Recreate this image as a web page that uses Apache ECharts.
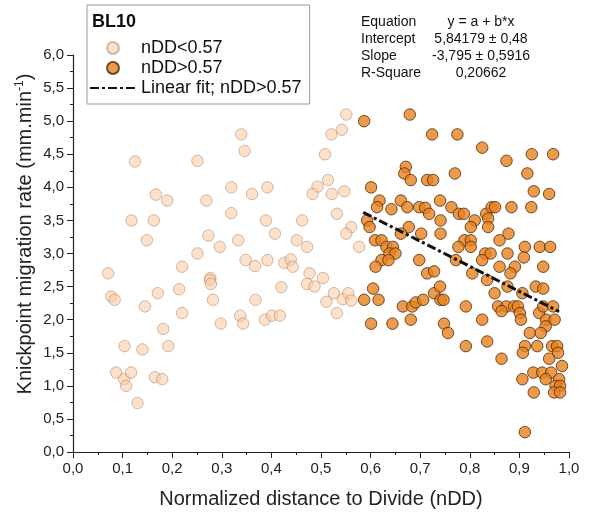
<!DOCTYPE html>
<html>
<head>
<meta charset="utf-8">
<script src="https://cdn.jsdelivr.net/npm/echarts@6/dist/echarts.min.js"></script>
<style>
  html, body { margin: 0; padding: 0; background: #fff; }
  #scatter-chart { width: 590px; height: 518px; }
</style>
</head>
<body>
<div id="scatter-chart"></div>
<script>
// nDD < 0.57
var lowPoints = [
  [0.071, 2.70], [0.125, 4.39], [0.118, 3.50], [0.149, 3.20], [0.167, 3.89], [0.190, 3.80],
  [0.163, 3.50], [0.220, 2.80], [0.251, 4.40], [0.269, 3.80], [0.251, 3.00], [0.273, 3.27],
  [0.296, 3.10], [0.277, 2.63], [0.319, 4.00], [0.319, 3.61], [0.333, 3.20], [0.339, 4.80],
  [0.346, 4.55], [0.361, 3.90], [0.348, 2.90], [0.367, 2.81],
  [0.077, 2.35], [0.084, 2.30], [0.145, 2.20], [0.104, 1.60], [0.087, 1.20], [0.103, 1.10],
  [0.107, 1.00], [0.117, 1.20], [0.130, 0.74], [0.140, 1.55], [0.171, 2.40], [0.182, 1.86],
  [0.192, 1.60], [0.165, 1.13], [0.180, 1.10], [0.214, 2.46], [0.220, 2.10], [0.276, 2.60],
  [0.278, 2.54], [0.282, 2.30], [0.298, 1.94], [0.337, 2.06], [0.343, 1.94], [0.368, 2.30],
  [0.551, 5.10], [0.542, 4.87], [0.521, 4.80], [0.508, 4.50], [0.514, 4.11], [0.493, 4.01],
  [0.483, 3.90], [0.522, 3.90], [0.547, 3.94], [0.392, 4.00], [0.389, 3.50], [0.462, 3.50],
  [0.532, 3.60], [0.407, 3.30], [0.451, 3.20], [0.472, 3.10], [0.561, 3.40], [0.551, 3.30],
  [0.577, 3.10], [0.392, 2.90], [0.426, 2.86], [0.439, 2.91], [0.443, 2.80], [0.477, 2.70],
  [0.504, 2.63],
  [0.420, 2.49], [0.472, 2.54], [0.487, 2.50], [0.526, 2.40], [0.511, 2.27], [0.544, 2.31],
  [0.555, 2.40], [0.561, 2.29], [0.532, 2.10], [0.387, 2.00], [0.401, 2.06], [0.417, 2.06]
]

// nDD > 0.57
var highPoints = [
  [0.587, 5.00], [0.679, 5.10], [0.671, 4.31], [0.668, 4.21], [0.681, 4.11], [0.601, 4.00],
  [0.618, 3.80], [0.613, 3.70], [0.642, 3.67], [0.661, 3.80], [0.674, 3.70], [0.698, 3.70],
  [0.593, 3.50], [0.598, 3.40], [0.677, 3.40], [0.661, 3.30], [0.609, 3.20], [0.622, 3.20],
  [0.632, 3.10], [0.645, 3.10], [0.638, 3.00], [0.650, 3.00], [0.622, 2.90], [0.636, 2.90],
  [0.610, 2.80], [0.698, 2.90],
  [0.605, 2.47], [0.587, 2.30], [0.616, 2.30], [0.665, 2.20], [0.684, 2.20], [0.691, 2.26],
  [0.601, 1.94], [0.644, 1.94], [0.681, 2.00],
  [0.724, 4.80], [0.775, 4.80], [0.825, 4.60], [0.874, 4.40], [0.925, 4.50], [0.968, 4.50],
  [0.714, 4.11], [0.726, 4.11], [0.770, 4.21], [0.916, 4.21], [0.929, 3.94], [0.960, 3.90],
  [0.710, 3.69], [0.718, 3.60], [0.740, 3.80], [0.763, 3.70], [0.778, 3.60], [0.788, 3.60],
  [0.741, 3.50], [0.810, 3.50], [0.802, 3.40], [0.833, 3.60], [0.844, 3.70], [0.851, 3.70],
  [0.837, 3.53], [0.837, 3.40], [0.884, 3.70], [0.924, 3.70], [0.702, 3.30], [0.741, 3.30],
  [0.878, 3.30], [0.860, 3.20], [0.789, 3.20], [0.802, 3.20], [0.777, 3.10], [0.802, 3.10],
  [0.911, 3.10], [0.941, 3.10], [0.962, 3.10], [0.831, 3.00], [0.842, 3.00], [0.876, 3.00],
  [0.909, 2.94], [0.772, 2.90], [0.825, 2.90], [0.860, 2.80], [0.891, 2.80], [0.948, 2.80],
  [0.714, 2.70], [0.728, 2.73], [0.805, 2.70], [0.882, 2.70],
  [0.728, 2.40], [0.740, 2.50], [0.741, 2.30], [0.747, 2.30], [0.706, 2.30], [0.748, 1.94],
  [0.756, 1.80], [0.792, 2.20], [0.825, 2.00], [0.792, 1.60], [0.835, 1.67], [0.835, 2.60],
  [0.850, 2.40], [0.876, 2.50], [0.906, 2.40], [0.933, 2.50], [0.948, 2.47], [0.857, 2.20],
  [0.874, 2.20], [0.889, 2.20], [0.897, 2.20], [0.864, 2.13], [0.901, 2.10], [0.903, 2.00],
  [0.940, 2.10], [0.948, 2.20], [0.968, 2.20], [0.954, 2.00], [0.971, 2.00], [0.953, 1.90],
  [0.921, 1.80], [0.943, 1.80], [0.911, 1.60], [0.936, 1.60], [0.907, 1.50], [0.966, 1.60],
  [0.976, 1.60], [0.978, 1.50], [0.960, 1.41], [0.864, 1.41], [0.986, 1.30], [0.928, 1.20],
  [0.946, 1.20], [0.964, 1.20], [0.953, 1.10], [0.906, 1.10], [0.980, 1.10], [0.973, 1.00],
  [0.982, 1.00], [0.970, 0.90], [0.982, 0.90], [0.929, 0.90], [0.911, 0.30]
]

// linear fit for nDD > 0.57
var fitIntercept = 5.84179
var fitSlope = -3.795
var fitRange = [0.585, 0.98]

var statNames = ['Equation', 'Intercept', 'Slope', 'R-Square']
var statValues = ['y = a + b*x', '5,84179 \u00b1 0,48', '-3,795 \u00b1 0,5916', '0,20662']

var fitLine = fitRange.map(function (x) {
  return [x, fitIntercept + fitSlope * x]
})

var font = '"Liberation Sans", Arial, sans-serif'
var comma = function (v) {
  return v.toFixed(1).replace('.', ',')
}

var statGraphics = []
statNames.forEach(function (name, i) {
  statGraphics.push({
    type: 'text',
    x: 361,
    y: 22 + i * 17,
    style: { text: name, font: '14px ' + font, fill: '#111', verticalAlign: 'middle' }
  })
  statGraphics.push({
    type: 'text',
    x: 481,
    y: 22 + i * 17,
    style: { text: statValues[i], font: '14px ' + font, fill: '#111', align: 'center', verticalAlign: 'middle' }
  })
})

var chart = echarts.init(document.getElementById('scatter-chart'))
chart.setOption({
  animation: false,
  textStyle: { fontFamily: font },
  grid: { left: 73, right: 21, top: 55, bottom: 66 },
  legend: {
    orient: 'vertical',
    left: 87,
    top: 5,
    padding: [34, 8, 7, 2],
    itemWidth: 46,
    itemHeight: 12,
    itemGap: 2,
    borderColor: '#999',
    borderWidth: 1,
    textStyle: { fontSize: 18, color: '#111', fontFamily: font },
    data: [
      { name: 'nDD<0.57', icon: 'circle' },
      { name: 'nDD>0.57', icon: 'circle' },
      { name: 'Linear fit; nDD>0.57', itemStyle: { opacity: 0 } }
    ]
  },
  graphic: [{
    type: 'text',
    x: 92,
    y: 22,
    style: { text: 'BL10', font: 'bold 18px ' + font, fill: '#111', verticalAlign: 'middle' }
  }, {
    type: 'text',
    x: 25,
    y: 234,
    rotation: Math.PI / 2,
    style: {
      text: 'Knickpoint migration rate (mm.min{sup|-1})',
      font: '20px ' + font,
      fill: '#222',
      align: 'center',
      verticalAlign: 'middle',
      rich: { sup: { fontSize: 12, fontFamily: font, fill: '#222', padding: [0, 0, 10, 0] } }
    }
  }].concat(statGraphics),
  xAxis: {
    type: 'value',
    min: 0,
    max: 1,
    interval: 0.1,
    name: 'Normalized distance to Divide (nDD)',
    nameLocation: 'middle',
    nameGap: 37,
    nameTextStyle: { fontSize: 20, color: '#222', fontFamily: font },
    axisLine: { lineStyle: { color: '#222', width: 1.2 } },
    axisTick: { length: 6, lineStyle: { color: '#222' } },
    minorTick: { show: true, splitNumber: 2, length: 3, lineStyle: { color: '#222' } },
    splitLine: { show: false },
    axisLabel: { formatter: comma, fontSize: 15, color: '#222', margin: 9, fontFamily: font }
  },
  yAxis: {
    type: 'value',
    min: 0,
    max: 6,
    interval: 0.5,
    axisLine: { show: true, lineStyle: { color: '#222', width: 1.2 } },
    axisTick: { length: 6, lineStyle: { color: '#222' } },
    minorTick: { show: true, splitNumber: 2, length: 3, lineStyle: { color: '#222' } },
    splitLine: { show: false },
    axisLabel: { formatter: comma, fontSize: 15, color: '#222', margin: 9, fontFamily: font }
  },
  series: [{
    name: 'nDD<0.57',
    type: 'scatter',
    symbolSize: 11.5,
    itemStyle: {
      color: 'rgba(251, 205, 168, 0.75)',
      borderColor: 'rgba(150, 110, 80, 0.55)',
      borderWidth: 1
    },
    data: lowPoints
  }, {
    name: 'nDD>0.57',
    type: 'scatter',
    symbolSize: 11.5,
    itemStyle: {
      color: '#e8821e',
      borderColor: '#4a2a0c',
      borderWidth: 1
    },
    data: highPoints
  }, {
    name: 'Linear fit; nDD>0.57',
    type: 'line',
    symbol: 'none',
    z: 5,
    lineStyle: { color: '#111', width: 3, type: [9, 3, 3, 3] },
    itemStyle: { color: '#111' },
    data: fitLine
  }]
})
</script>
</body>
</html>
